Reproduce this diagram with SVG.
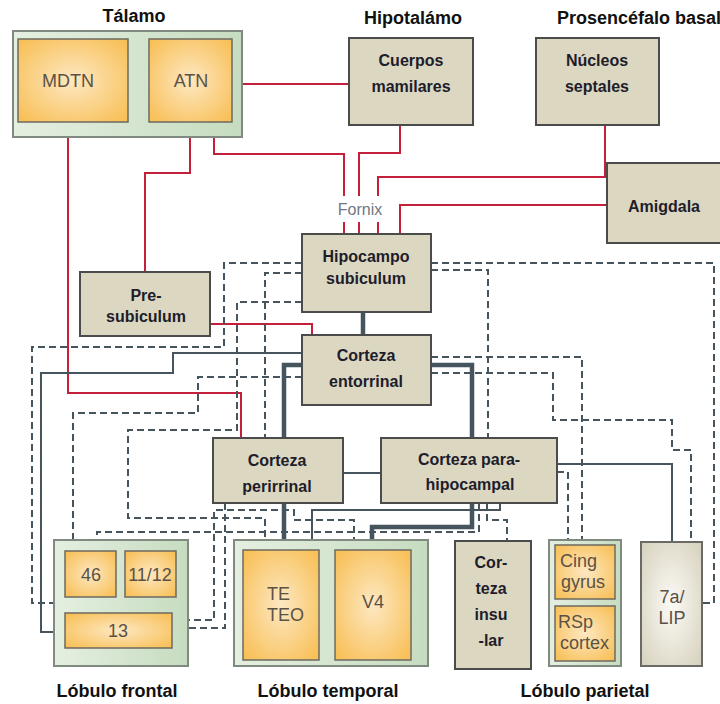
<svg xmlns="http://www.w3.org/2000/svg" width="720" height="704" viewBox="0 0 720 704">
<defs>
<radialGradient id="og" cx="50%" cy="50%" r="65%"><stop offset="0" stop-color="#fde8c2"/><stop offset="1" stop-color="#f8c058"/></radialGradient>
<linearGradient id="gg" x1="0" y1="0" x2="1" y2="0"><stop offset="0" stop-color="#e5efe1"/><stop offset="1" stop-color="#c6dcc0"/></linearGradient>
<radialGradient id="wg" cx="50%" cy="50%" r="65%"><stop offset="0" stop-color="#fbfaf6"/><stop offset="1" stop-color="#d9d3c0"/></radialGradient>
</defs>
<style>
.bx{fill:#dcd7c1;stroke:#4b4b4b;stroke-width:2}
.or{fill:url(#og);stroke:#6d6a60;stroke-width:1.5}
.gr{fill:url(#gg);stroke:#808a80;stroke-width:2}
.r{fill:none;stroke:#c41f3b;stroke-width:2}
.s{fill:none;stroke:#46545d;stroke-width:2}
.t{fill:none;stroke:#46545d;stroke-width:4.5}
.d{fill:none;stroke:#46545d;stroke-width:2;stroke-dasharray:7 4}
.h{font-family:"Liberation Sans",Arial,sans-serif;font-weight:bold;font-size:18px;fill:#111;text-anchor:middle}
.b{font-family:"Liberation Sans",Arial,sans-serif;font-weight:bold;font-size:16px;fill:#1d1d2b;text-anchor:middle}
.o{font-family:"Liberation Sans",Arial,sans-serif;font-size:18px;fill:#5a5246;text-anchor:middle}
.ol{font-family:"Liberation Sans",Arial,sans-serif;font-size:18px;fill:#5a5246}
</style>
<rect width="720" height="704" fill="#fff"/>
<g id="connectors">
<path class="r" d="M232,84 H349"/>
<path class="r" d="M68,122 V393 H241 V438"/>
<path class="r" d="M190,122 V173 H145 V272"/>
<path class="r" d="M214,122 V154 H344 V196 M344,222 V234"/>
<path class="r" d="M400,125 V153 H359 V196 M359,222 V234"/>
<path class="r" d="M605,125 V177 H378 V196 M378,222 V234"/>
<path class="r" d="M607,205 H400 V234"/>
<path class="r" d="M210,324 H312 V335"/>
<path class="s" d="M302,353 H173 V373 H41 V632 H54"/>
<path class="s" d="M343,473 H381"/>
<path class="s" d="M557,464 H672 V542"/>
<path class="s" d="M500,503 V510 H312 V540"/>
<path class="t" d="M363,312 V335"/>
<path class="t" d="M302,365 H284 V438 M284,503 V540"/>
<path class="t" d="M431,365 H472 V438"/>
<path class="t" d="M472,503 V527 H372 V540"/>
<path class="d" d="M302,263 H224 V347 H32 V603 H54"/>
<path class="d" d="M302,273 H265 V438"/>
<path class="d" d="M302,302 H237 V430 H128 V518 H265 V540"/>
<path class="d" d="M302,377 H198 V413 H73 V540"/>
<path class="d" d="M431,263 H714 V603 H702"/>
<path class="d" d="M431,270 H488 V438"/>
<path class="d" d="M431,357 H582 V540"/>
<path class="d" d="M431,373 H553 V420 H672 V450 H691 V542"/>
<path class="d" d="M557,472 H568 V540"/>
<path class="d" d="M487,503 V520 H507 V541"/>
<path class="d" d="M479,503 V532 H97 V540"/>
<path class="d" d="M172,620 H214 V510 H294 V520 H354 V540"/>
<path class="d" d="M225,503 V628 H172"/>
</g>
<text x="360" y="215" font-family="Liberation Sans, Arial, sans-serif" font-size="16" fill="#6e7884" text-anchor="middle">Fornix</text>
<g id="talamo">
<text class="h" x="134" y="22">Tálamo</text>
<rect class="gr" x="13" y="31" width="229" height="106"/>
</g>
<g id="mdtn"><rect class="or" x="18" y="39" width="110" height="83"/><text class="o" x="68" y="87">MDTN</text></g>
<g id="atn"><rect class="or" x="149" y="39" width="83" height="83"/><text class="o" x="191" y="87">ATN</text></g>
<g id="mamilares">
<text class="h" x="413" y="24">Hipotalámo</text>
<rect class="bx" x="349" y="38" width="124" height="87"/>
<text class="b" x="411" y="66">Cuerpos</text><text class="b" x="411" y="92">mamilares</text>
</g>
<g id="septales">
<text class="h" x="557" y="24" style="text-anchor:start">Prosencéfalo basal</text>
<rect class="bx" x="536" y="38" width="123" height="87"/>
<text class="b" x="597" y="66">Núcleos</text><text class="b" x="597" y="92">septales</text>
</g>
<g id="amigdala"><rect class="bx" x="607" y="163" width="120" height="80"/><text class="b" x="664" y="212">Amigdala</text></g>
<g id="hipocampo"><rect class="bx" x="302" y="234" width="129" height="78"/><text class="b" x="366" y="262">Hipocampo</text><text class="b" x="366" y="284">subiculum</text></g>
<g id="presubiculum"><rect class="bx" x="80" y="272" width="130" height="64"/><text class="b" x="146" y="301">Pre-</text><text class="b" x="146" y="322">subiculum</text></g>
<g id="entorrinal"><rect class="bx" x="302" y="335" width="129" height="70"/><text class="b" x="366" y="361">Corteza</text><text class="b" x="366" y="387">entorrinal</text></g>
<g id="perirrinal"><rect class="bx" x="213" y="438" width="130" height="65"/><text class="b" x="277" y="466">Corteza</text><text class="b" x="277" y="492">perirrinal</text></g>
<g id="parahipocampal"><rect class="bx" x="381" y="438" width="176" height="65"/><text class="b" x="469" y="465">Corteza para-</text><text class="b" x="470" y="490">hipocampal</text></g>
<g id="frontal">
<rect class="gr" x="54" y="540" width="134" height="126"/>
<rect class="or" x="65" y="551" width="51" height="46"/><text class="o" x="91" y="581">46</text>
<rect class="or" x="125" y="551" width="51" height="46"/><text class="o" x="150" y="581">11/12</text>
<rect class="or" x="65" y="613" width="107" height="35"/><text class="o" x="118" y="637">13</text>
<text class="h" x="117" y="697">Lóbulo frontal</text>
</g>
<g id="temporal">
<rect class="gr" x="234" y="540" width="194" height="126"/>
<rect class="or" x="243" y="550" width="76" height="110"/><text class="ol" x="267" y="600">TE</text><text class="ol" x="267" y="621">TEO</text>
<rect class="or" x="335" y="550" width="76" height="110"/><text class="o" x="373" y="608">V4</text>
<text class="h" x="328" y="697">Lóbulo temporal</text>
</g>
<g id="insular"><rect class="bx" x="455" y="541" width="76" height="128"/><text class="b" x="491" y="568">Cor-</text><text class="b" x="491" y="594">teza</text><text class="b" x="491" y="620">insu</text><text class="b" x="491" y="646">-lar</text></g>
<g id="parietal">
<rect class="gr" x="549" y="540" width="72" height="126"/>
<rect class="or" x="555" y="545" width="60" height="54"/><text class="ol" x="560" y="567">Cing</text><text class="ol" x="561" y="588">gyrus</text>
<rect class="or" x="555" y="606" width="60" height="55"/><text class="ol" x="558" y="628">RSp</text><text class="ol" x="560" y="649">cortex</text>
<text class="h" x="585" y="697">Lóbulo parietal</text>
</g>
<g id="lip"><rect x="641" y="542" width="61" height="124" fill="url(#wg)" stroke="#6a6a66" stroke-width="2"/><text class="o" x="672" y="603">7a/</text><text class="o" x="672" y="624">LIP</text></g>
</svg>
